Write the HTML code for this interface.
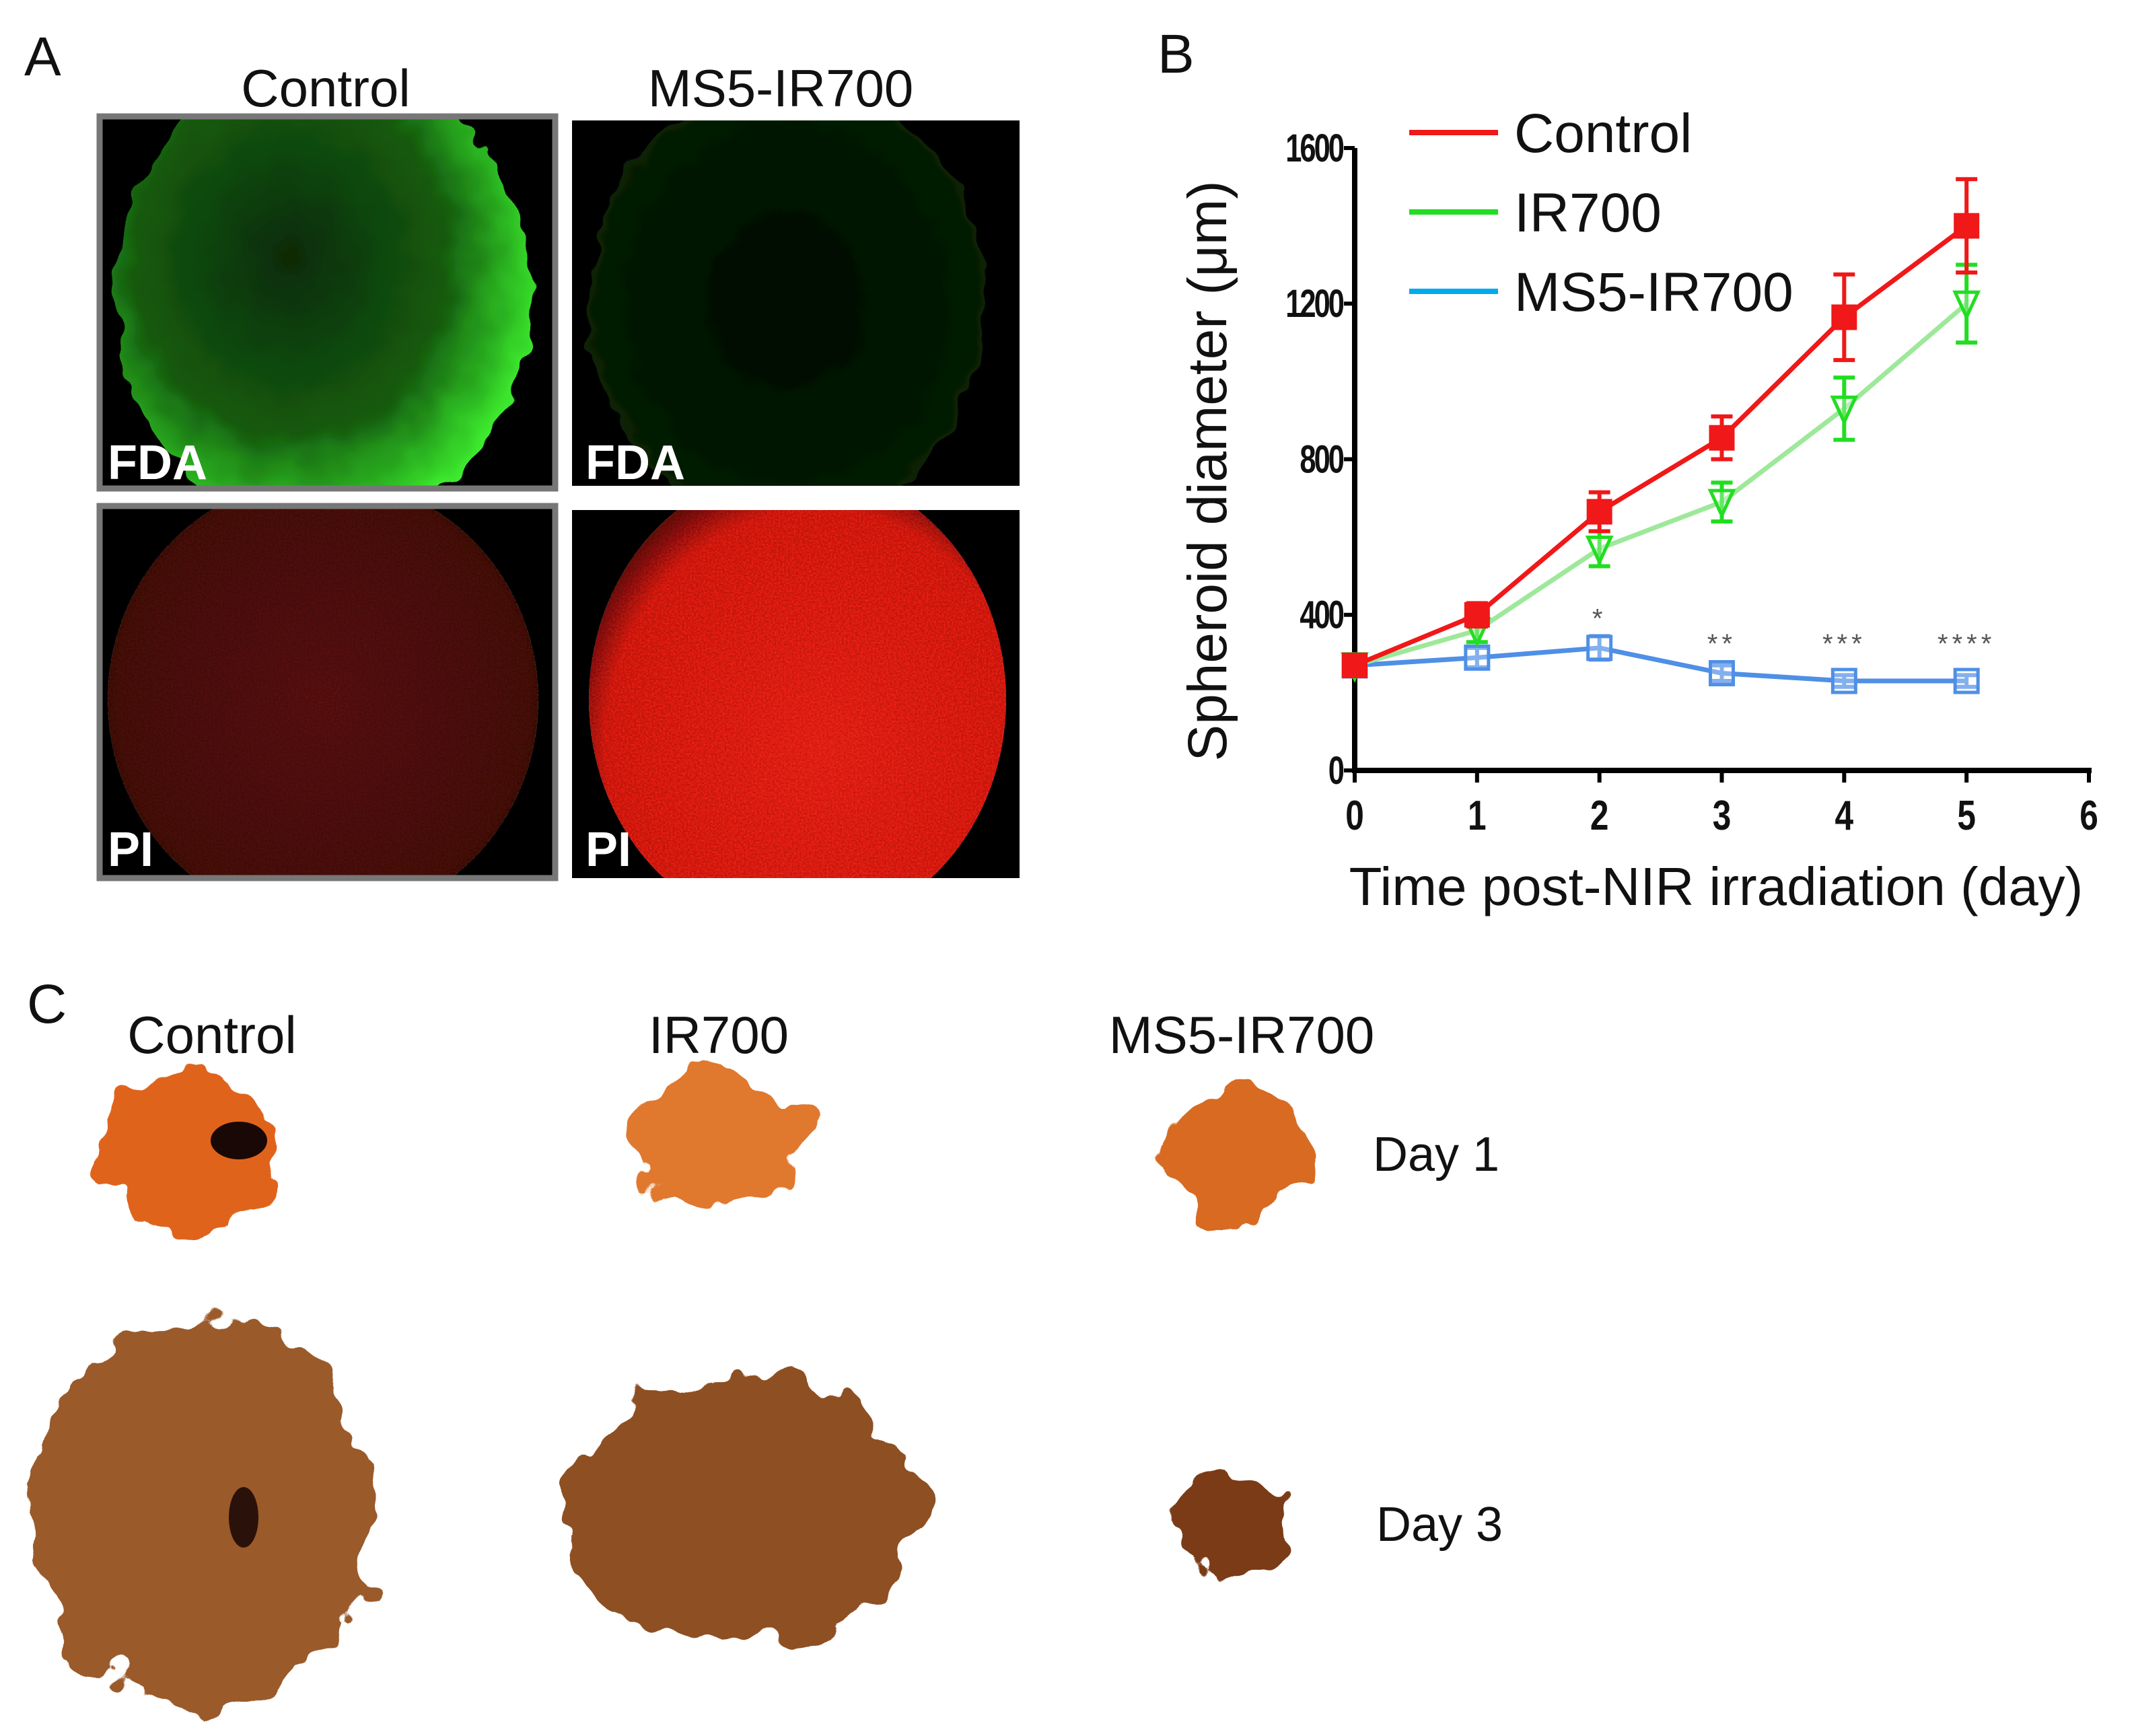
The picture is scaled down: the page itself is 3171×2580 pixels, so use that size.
<!DOCTYPE html>
<html><head><meta charset="utf-8"><style>
html,body{margin:0;padding:0;background:#fff;}
svg{display:block;font-family:"Liberation Sans",sans-serif;}
</style></head><body>
<svg width="3171" height="2580" viewBox="0 0 3171 2580">
<defs>
 <filter id="rough" x="-20%" y="-20%" width="140%" height="140%">
  <feTurbulence type="fractalNoise" baseFrequency="0.012" numOctaves="3" seed="4" result="n"/>
  <feDisplacementMap in="SourceGraphic" in2="n" scale="90" xChannelSelector="R" yChannelSelector="G"/>
 </filter>
 <filter id="rough2" x="-20%" y="-20%" width="140%" height="140%">
  <feTurbulence type="fractalNoise" baseFrequency="0.02" numOctaves="2" seed="7" result="n"/>
  <feDisplacementMap in="SourceGraphic" in2="n" scale="40" xChannelSelector="R" yChannelSelector="G"/>
 </filter>
 <filter id="speck" x="0" y="0" width="100%" height="100%">
  <feTurbulence type="fractalNoise" baseFrequency="0.35" numOctaves="2" seed="2" result="t"/>
  <feColorMatrix in="t" type="matrix" values="0 0 0 0 1  0 0 0 0 1  0 0 0 0 1  0 0 0 -1.6 1.1" result="m"/>
  <feComposite in="m" in2="SourceGraphic" operator="in" result="c"/>
  <feBlend in="c" in2="SourceGraphic" mode="overlay"/>
 </filter>
 <clipPath id="c1"><rect x="148" y="173" width="677" height="553"/></clipPath>
 <clipPath id="c2"><rect x="850" y="179" width="665" height="543"/></clipPath>
 <clipPath id="c3"><rect x="148" y="752" width="677" height="553"/></clipPath>
 <clipPath id="c4"><rect x="850" y="758" width="665" height="547"/></clipPath>
 <radialGradient id="gC" cx="0.42" cy="0.42" r="0.62">
  <stop offset="0" stop-color="#0a2a06"/><stop offset="0.6" stop-color="#145a0e"/><stop offset="0.88" stop-color="#2fc324"/><stop offset="1" stop-color="#40f030"/>
 </radialGradient>
 <radialGradient id="gM" cx="0.5" cy="0.5" r="0.6">
  <stop offset="0" stop-color="#020a02"/><stop offset="0.8" stop-color="#061c05"/><stop offset="1" stop-color="#124a10"/>
 </radialGradient>
 <radialGradient id="rC" cx="0.5" cy="0.5" r="0.6">
  <stop offset="0" stop-color="#4a0c08"/><stop offset="0.8" stop-color="#3a0705"/><stop offset="1" stop-color="#150202"/>
 </radialGradient>
 <radialGradient id="rM" cx="0.55" cy="0.6" r="0.6">
  <stop offset="0" stop-color="#d01a10"/><stop offset="0.85" stop-color="#b8140c"/><stop offset="1" stop-color="#5a0805"/>
 </radialGradient>
</defs>

<!-- Panel A -->
<text x="36" y="112" font-size="82" fill="#111">A</text>
<text x="484" y="158" font-size="78" text-anchor="middle" fill="#111">Control</text>
<text x="1160" y="158" font-size="78" text-anchor="middle" fill="#111">MS5-IR700</text>

<g>
 <rect x="148" y="173" width="677" height="553" fill="#000"/>
 <g clip-path="url(#c1)"><ellipse cx="480" cy="440" rx="310" ry="350" fill="url(#gC)" filter="url(#rough2)"/></g>
 <rect x="148" y="173" width="677" height="553" fill="none" stroke="#777" stroke-width="9"/>
 <text x="160" y="712" font-size="72" font-weight="bold" fill="#fff">FDA</text>
</g>
<g>
 <rect x="850" y="179" width="665" height="543" fill="#000"/>
 <g clip-path="url(#c2)"><ellipse cx="1170" cy="450" rx="295" ry="330" fill="url(#gM)" filter="url(#rough2)"/></g>
 <text x="870" y="712" font-size="72" font-weight="bold" fill="#fff">FDA</text>
</g>
<g>
 <rect x="148" y="752" width="677" height="553" fill="#000"/>
 <g clip-path="url(#c3)"><ellipse cx="480" cy="1040" rx="320" ry="330" fill="url(#rC)" filter="url(#speck)"/></g>
 <rect x="148" y="752" width="677" height="553" fill="none" stroke="#777" stroke-width="9"/>
 <text x="160" y="1287" font-size="72" font-weight="bold" fill="#fff">PI</text>
</g>
<g>
 <rect x="850" y="758" width="665" height="547" fill="#000"/>
 <g clip-path="url(#c4)"><ellipse cx="1185" cy="1040" rx="310" ry="345" fill="url(#rM)" filter="url(#speck)"/></g>
 <text x="870" y="1287" font-size="72" font-weight="bold" fill="#fff">PI</text>
</g>

<!-- Panel B chart -->
<text x="1720" y="108" font-size="82" fill="#111">B</text>
<g id="chart"></g>

<!-- Panel C -->
<text x="40" y="1520" font-size="82" fill="#111">C</text>
<text x="315" y="1565" font-size="78" text-anchor="middle" fill="#111">Control</text>
<text x="1068" y="1565" font-size="78" text-anchor="middle" fill="#111">IR700</text>
<text x="1845" y="1565" font-size="78" text-anchor="middle" fill="#111">MS5-IR700</text>
<text x="2040" y="1740" font-size="72" fill="#111">Day 1</text>
<text x="2045" y="2290" font-size="72" fill="#111">Day 3</text>

<g filter="url(#rough)">
 <ellipse cx="275" cy="1715" rx="135" ry="115" fill="#e0641a"/>
 <ellipse cx="1065" cy="1690" rx="135" ry="100" fill="#e0782e"/>
 <ellipse cx="1840" cy="1715" rx="100" ry="110" fill="#d86a22"/>
 <ellipse cx="300" cy="2250" rx="255" ry="290" fill="#9a5a2c"/>
 <ellipse cx="1105" cy="2245" rx="265" ry="200" fill="#8e4f22"/>
 <ellipse cx="1825" cy="2272" rx="85" ry="75" fill="#7a3a14"/>
</g>
<ellipse cx="355" cy="1695" rx="42" ry="28" fill="#1a0806"/>
<ellipse cx="362" cy="2255" rx="22" ry="45" fill="#2a120a"/>

<script>
const days = [0,1,2,3,4,5];
const controlVals = [270,400,665,855,1165,1400];
const controlErr = [20,30,50,55,110,120];
const ir700Vals = [270,360,570,690,930,1200];
const ir700Err = [20,30,45,50,80,100];
const ms5Vals = [270,290,315,250,230,230];
const ms5Err = [25,25,30,20,15,15];
const yTicks = [0,400,800,1200,1600];
const xTicks = [0,1,2,3,4,5,6];
const stars = ["", "", "*", "**", "***", "****"];
const legendNames = ["Control","IR700","MS5-IR700"];

const NS = "http://www.w3.org/2000/svg";
const g = document.getElementById('chart');
const X0=2013, X1=3104, Y0=1145, Y1=220;
function sx(d){return X0+(d-0)/6*(X1-X0);}
function sy(v){return Y0-(v/1600)*(Y0-Y1);}
function mk(tag, attrs, parent){const e=document.createElementNS(NS,tag);for(const k in attrs)e.setAttribute(k,attrs[k]);(parent||g).appendChild(e);return e;}

let ax = mk('line',{x1:X0,y1:Y1,x2:X0,y2:Y0+4,stroke:'#000','stroke-width':8});


ax = mk('line',{x1:X0-4,y1:Y0,x2:X1+4,y2:Y0,stroke:'#000','stroke-width':8});


yTicks.forEach(t=>{
  const l=mk('line',{x1:X0-16,y1:sy(t),x2:X0,y2:sy(t),stroke:'#000','stroke-width':6});
  
  
  const tx=mk('text',{x:X0-18,y:sy(t)+20,'font-size':58,'font-weight':'bold','text-anchor':'end',fill:'#111','letter-spacing':-4,transform:`translate(${X0-18},0) scale(0.75,1) translate(${-(X0-18)},0)`});
  tx.textContent=t;
  
  
});
xTicks.forEach(t=>{
  const l=mk('line',{x1:sx(t),y1:Y0,x2:sx(t),y2:Y0+18,stroke:'#000','stroke-width':6});
  
  
  const tx=mk('text',{x:sx(t),y:Y0+88,'font-size':62,'font-weight':'bold','text-anchor':'middle',fill:'#111',transform:`translate(${sx(t)},0) scale(0.8,1) translate(${-sx(t)},0)`});
  tx.textContent=t;
  
  
});
let tt=mk('text',{x:2550,y:1345,'font-size':80,'text-anchor':'middle',fill:'#111'});
tt.textContent='Time post-NIR irradiation (day)';


tt=mk('text',{x:0,y:0,'font-size':82,'text-anchor':'middle',fill:'#111',transform:'translate(1822,700) rotate(-90)'});
tt.textContent='Spheroid diameter (\u03bcm)';



function series(vals, errs, lineColor, markColor, kind, name){
  const pts=days.map((d,i)=>sx(d)+','+sy(vals[i])).join(' ');
  const pl=mk('polyline',{points:pts,fill:'none',stroke:lineColor,'stroke-width':7});
  
  
  days.forEach((d,i)=>{
    const x=sx(d), yt=sy(vals[i]+errs[i]), yb=sy(vals[i]-errs[i]);
    const eb=mk('path',{d:`M${x},${yt}V${yb}M${x-16},${yt}H${x+16}M${x-16},${yb}H${x+16}`,stroke:markColor,'stroke-width':6,fill:'none'});
    
    
    const y=sy(vals[i]); let m;
    if(kind==='sq') m=mk('rect',{x:x-19,y:y-19,width:38,height:38,fill:markColor});
    else if(kind==='tri') m=mk('path',{d:`M${x-17},${y-17}H${x+17}L${x},${y+20}Z`,fill:'#fff','fill-opacity':0.3,stroke:markColor,'stroke-width':5});
    else m=mk('rect',{x:x-17,y:y-17,width:34,height:34,fill:'#fff','fill-opacity':0.3,stroke:markColor,'stroke-width':5});
    
    
  });
}
series(ms5Vals, ms5Err, '#4f8fe6', '#4f8fe6', 'osq', 'ms5-ir700');
series(ir700Vals, ir700Err, '#9ee89a', '#22dd22', 'tri', 'ir700');
series(controlVals, controlErr, '#f01818', '#f01818', 'sq', 'control');

days.forEach((d,i)=>{
  if(!stars[i]) return;
  const s=mk('text',{x:sx(d),y:sy(i===2?ms5Vals[i]+70:320)+10,'font-size':40,'text-anchor':'middle',fill:'#555','letter-spacing':6});
  s.textContent=stars[i];
  
  
});

const legColors=['#f01818','#22dd22','#00aaee'];
legendNames.forEach((n,i)=>{
  const y=197+i*118;
  const l=mk('line',{x1:2094,y1:y,x2:2226,y2:y,stroke:legColors[i],'stroke-width':8});
  
  
  const t=mk('text',{x:2250,y:y+29,'font-size':82,fill:'#111'});
  t.textContent=n;
  
  
});
</script>
</svg>
</body></html>
